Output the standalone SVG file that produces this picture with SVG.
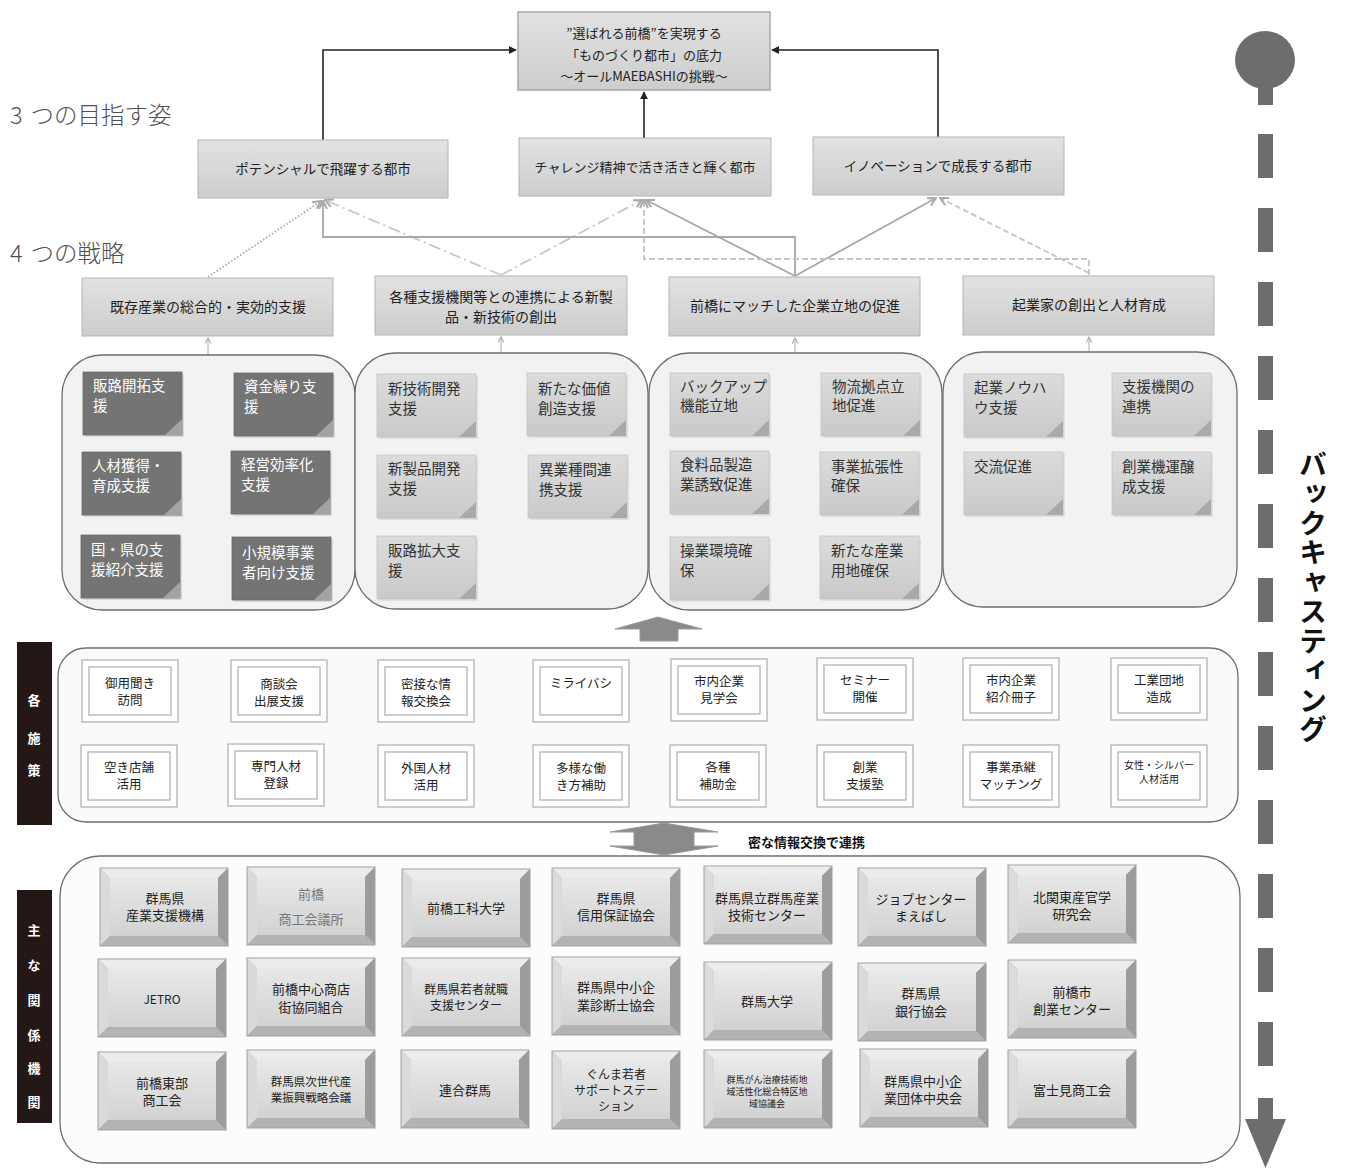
<svg xmlns="http://www.w3.org/2000/svg" xmlns:xlink="http://www.w3.org/1999/xlink" width="1345" height="1169" viewBox="0 0 1345 1169">
<style>
text{font-family:"Noto Sans CJK JP","Noto Sans",sans-serif;}
.bx{font-size:13.5px;fill:#222;text-anchor:middle;}
.tb{font-size:13px;fill:#222;text-anchor:middle;}
.sec{font-size:23.5px;fill:#505050;font-weight:300;}
.nt{font-size:14.5px;fill:#333;}
.ntw{font-size:14.5px;fill:#fff;}
.ms{font-size:12.5px;fill:#222;text-anchor:middle;}
.in{font-size:13px;fill:#222;text-anchor:middle;}
.lbl{font-size:13px;fill:#fff;font-weight:bold;text-anchor:middle;}
.panel{fill:#f2f2f2;stroke:#6e6e6e;stroke-width:1.3;}
.cg{fill:none;stroke:#a8a8a8;stroke-width:1.8;}
</style>
<defs>
<linearGradient id="gBox" x1="0" y1="0" x2="0" y2="1"><stop offset="0" stop-color="#e2e2e2"/><stop offset="1" stop-color="#cdcdcd"/></linearGradient>
<linearGradient id="gNote" x1="0" y1="0" x2="0" y2="1"><stop offset="0" stop-color="#dcdcdc"/><stop offset="1" stop-color="#c9c9c9"/></linearGradient>
<linearGradient id="gFace" x1="0" y1="0" x2="0" y2="1"><stop offset="0" stop-color="#e8e8e8"/><stop offset="1" stop-color="#d2d2d2"/></linearGradient>
<marker id="aB" viewBox="0 0 10 10" refX="9" refY="5" markerWidth="8" markerHeight="8" markerUnits="userSpaceOnUse" orient="auto"><path d="M0,0 L10,5 L0,10 Z" fill="#222"/></marker>
<marker id="aG" viewBox="0 0 10 10" refX="9" refY="5" markerWidth="10" markerHeight="10" markerUnits="userSpaceOnUse" orient="auto"><path d="M1,1 L9,5 L1,9" fill="none" stroke="#aaa" stroke-width="2"/></marker>
<marker id="aS" viewBox="0 0 10 10" refX="9" refY="5" markerWidth="7" markerHeight="7" markerUnits="userSpaceOnUse" orient="auto"><path d="M1,1 L9,5 L1,9" fill="none" stroke="#aaa" stroke-width="1.6"/></marker>
<g id="noteL">
<rect x="2" y="2" width="99" height="63" fill="#000" opacity="0.08"/>
<rect x="0" y="0" width="99" height="63" fill="url(#gNote)" stroke="#c4c4c4" stroke-width="0.8"/>
<path d="M82,63 L99,47 L99,63 Z" fill="#a9a9a9"/>
</g>
<g id="noteD">
<rect x="2" y="2" width="99" height="63" fill="#000" opacity="0.1"/>
<rect x="0" y="0" width="99" height="63" fill="#747474" stroke="#6a6a6a" stroke-width="0.8"/>
<path d="M82,63 L99,47 L99,63 Z" fill="#a3a3a3"/>
</g>
<g id="mbox">
<rect x="0" y="0" width="96" height="62" fill="#fff" stroke="#bdbdbd" stroke-width="1.5"/>
<rect x="7" y="7" width="82" height="48" fill="none" stroke="#bdbdbd" stroke-width="1.5"/>
</g>
<g id="bev">
<rect x="0" y="0" width="128" height="78" fill="#b0b0b0"/>
<path d="M0,0 H128 L118,10 H10 Z" fill="#ececec"/>
<path d="M0,0 L10,10 V68 L0,78 Z" fill="#dadada"/>
<path d="M128,0 V78 L118,68 V10 Z" fill="#9c9c9c"/>
<path d="M0,78 H128 L118,68 H10 Z" fill="#b3b3b3"/>
<rect x="10" y="10" width="108" height="58" fill="url(#gFace)"/>
<rect x="0" y="0" width="128" height="78" fill="none" stroke="#a0a0a0" stroke-width="1"/>
</g>
</defs>
<rect width="1345" height="1169" fill="#fff"/>

<!-- section labels -->
<text class="sec" x="10" y="124">3<tspan dx="8">つの目指す姿</tspan></text>
<text class="sec" x="10" y="262">4<tspan dx="8">つの戦略</tspan></text>

<!-- connectors -->
<g id="connectors">
<path d="M323,140 V50 H516" fill="none" stroke="#222" stroke-width="1.6" marker-end="url(#aB)"/>
<path d="M644,138 V92" fill="none" stroke="#222" stroke-width="1.6" marker-end="url(#aB)"/>
<path d="M938,137 V50 H772" fill="none" stroke="#222" stroke-width="1.6" marker-end="url(#aB)"/>
<path d="M208,277 L321,201" class="cg" stroke-dasharray="1.5,2" marker-end="url(#aG)"/>
<path d="M501,275 L325,200" class="cg" style="stroke:#c8c8c8" stroke-dasharray="12,4,2,4" marker-end="url(#aG)"/>
<path d="M501,275 L642,200" class="cg" style="stroke:#c8c8c8" stroke-dasharray="12,4,2,4" marker-end="url(#aG)"/>
<path d="M795,276 V237 H323 V201" class="cg" marker-end="url(#aG)"/>
<path d="M795,276 L646,200" class="cg" marker-end="url(#aG)"/>
<path d="M795,276 L936,198" class="cg" marker-end="url(#aG)"/>
<path d="M1089,275 V259 H644 V200" class="cg" style="stroke:#c4c4c4" stroke-dasharray="6,3" marker-end="url(#aG)"/>
<path d="M1089,273 L940,198" class="cg" style="stroke:#c4c4c4" stroke-dasharray="6,3" marker-end="url(#aG)"/>
<path d="M208,355 V338" fill="none" stroke="#aaa" stroke-width="1" marker-end="url(#aS)"/>
<path d="M501,353 V337" fill="none" stroke="#aaa" stroke-width="1" marker-end="url(#aS)"/>
<path d="M795,353 V338" fill="none" stroke="#aaa" stroke-width="1" marker-end="url(#aS)"/>
<path d="M1089,352 V337" fill="none" stroke="#aaa" stroke-width="1" marker-end="url(#aS)"/>
<path d="M658,617 L702,629 H678 V641 H640 V629 H615 Z" fill="#8a8a8a" stroke="#9a9a9a" stroke-width="1"/>
<path d="M664,823 L718,832 H694 V846 H718 L664,855 L610,846 H634 V832 H610 Z" fill="#8a8a8a" stroke="#9a9a9a" stroke-width="1"/>
<text x="748" y="847" style="font-size:13px;font-weight:bold" fill="#111">密な情報交換で連携</text>
</g>

<!-- top goal -->
<g id="vision">
<rect x="518" y="12" width="252" height="78" fill="url(#gBox)" stroke="#a8a8a8" stroke-width="1.5"/>
<text class="tb" x="644" y="38">”選ばれる前橋”を実現する</text>
<text class="tb" x="644" y="60">「ものづくり都市」の底力</text>
<text class="tb" x="644" y="81">～オールMAEBASHIの挑戦～</text>
</g>

<!-- three goals -->
<g id="goal1"><rect x="198" y="140" width="250" height="58" fill="url(#gBox)" stroke="#b4b4b4"/><text class="bx" x="323" y="174">ポテンシャルで飛躍する都市</text></g>
<g id="goal2"><rect x="519" y="138" width="252" height="58" fill="url(#gBox)" stroke="#b4b4b4"/><text class="bx" x="645" y="172" style="font-size:13px">チャレンジ精神で活き活きと輝く都市</text></g>
<g id="goal3"><rect x="813" y="137" width="251" height="58" fill="url(#gBox)" stroke="#b4b4b4"/><text class="bx" x="938" y="171">イノベーションで成長する都市</text></g>

<!-- strategies -->
<g id="str1"><rect x="82" y="278" width="251" height="58" fill="url(#gBox)" stroke="#b4b4b4"/><text class="bx" x="208" y="312" style="font-size:14px">既存産業の総合的・実効的支援</text></g>
<g id="str2"><rect x="375" y="276" width="252" height="59" fill="url(#gBox)" stroke="#b4b4b4"/><text class="bx" x="501" y="302" style="font-size:14px">各種支援機関等との連携による新製</text><text class="bx" x="501" y="322" style="font-size:14px">品・新技術の創出</text></g>
<g id="str3"><rect x="669" y="277" width="251" height="59" fill="url(#gBox)" stroke="#b4b4b4"/><text class="bx" x="795" y="311" style="font-size:14px">前橋にマッチした企業立地の促進</text></g>
<g id="str4"><rect x="963" y="276" width="251" height="59" fill="url(#gBox)" stroke="#b4b4b4"/><text class="bx" x="1089" y="310" style="font-size:14px">起業家の創出と人材育成</text></g>

<!-- panels -->
<g id="panel1">
<rect class="panel" x="62" y="355" width="293" height="255" rx="40"/>
<use xlink:href="#noteD" x="83" y="372"/><text class="ntw" x="93" y="391">販路開拓支</text><text class="ntw" x="93" y="411">援</text>
<use xlink:href="#noteD" x="234" y="373"/><text class="ntw" x="244" y="392">資金繰り支</text><text class="ntw" x="244" y="412">援</text>
<use xlink:href="#noteD" x="82" y="452"/><text class="ntw" x="92" y="471">人材獲得・</text><text class="ntw" x="92" y="491">育成支援</text>
<use xlink:href="#noteD" x="231" y="451"/><text class="ntw" x="241" y="470">経営効率化</text><text class="ntw" x="241" y="490">支援</text>
<use xlink:href="#noteD" x="81" y="535"/><text class="ntw" x="91" y="555">国・県の支</text><text class="ntw" x="91" y="575">援紹介支援</text>
<use xlink:href="#noteD" x="232" y="537"/><text class="ntw" x="242" y="558">小規模事業</text><text class="ntw" x="242" y="578">者向け支援</text>
</g>
<g id="panel2">
<rect class="panel" x="355" y="353" width="293" height="256" rx="40"/>
<use xlink:href="#noteL" x="377" y="374"/><text class="nt" x="388" y="394">新技術開発</text><text class="nt" x="388" y="414">支援</text>
<use xlink:href="#noteL" x="527" y="373"/><text class="nt" x="538" y="394">新たな価値</text><text class="nt" x="538" y="414">創造支援</text>
<use xlink:href="#noteL" x="377" y="455"/><text class="nt" x="388" y="474">新製品開発</text><text class="nt" x="388" y="494">支援</text>
<use xlink:href="#noteL" x="528" y="455"/><text class="nt" x="539" y="475">異業種間連</text><text class="nt" x="539" y="495">携支援</text>
<use xlink:href="#noteL" x="377" y="536"/><text class="nt" x="388" y="556">販路拡大支</text><text class="nt" x="388" y="576">援</text>
</g>
<g id="panel3">
<rect class="panel" x="649" y="353" width="293" height="257" rx="40"/>
<use xlink:href="#noteL" x="670" y="373"/><text class="nt" x="680" y="392">バックアップ</text><text class="nt" x="680" y="411">機能立地</text>
<use xlink:href="#noteL" x="821" y="373"/><text class="nt" x="832" y="392">物流拠点立</text><text class="nt" x="832" y="411">地促進</text>
<use xlink:href="#noteL" x="670" y="451"/><text class="nt" x="680" y="470">食料品製造</text><text class="nt" x="680" y="490">業誘致促進</text>
<use xlink:href="#noteL" x="820" y="452"/><text class="nt" x="831" y="472">事業拡張性</text><text class="nt" x="831" y="491">確保</text>
<use xlink:href="#noteL" x="670" y="537"/><text class="nt" x="680" y="556">操業環境確</text><text class="nt" x="680" y="576">保</text>
<use xlink:href="#noteL" x="820" y="536"/><text class="nt" x="831" y="556">新たな産業</text><text class="nt" x="831" y="576">用地確保</text>
</g>
<g id="panel4">
<rect class="panel" x="943" y="352" width="294" height="255" rx="40"/>
<use xlink:href="#noteL" x="964" y="374"/><text class="nt" x="974" y="393">起業ノウハ</text><text class="nt" x="974" y="413">ウ支援</text>
<use xlink:href="#noteL" x="1112" y="373"/><text class="nt" x="1122" y="392">支援機関の</text><text class="nt" x="1122" y="412">連携</text>
<use xlink:href="#noteL" x="964" y="452"/><text class="nt" x="974" y="472">交流促進</text>
<use xlink:href="#noteL" x="1112" y="452"/><text class="nt" x="1122" y="472">創業機運醸</text><text class="nt" x="1122" y="492">成支援</text>
</g>

<!-- measures -->
<g id="measures-label">
<rect x="17" y="642" width="35" height="183" fill="#231815"/>
<text class="lbl" x="34" y="705">各</text><text class="lbl" x="34" y="743">施</text><text class="lbl" x="34" y="775">策</text>
</g>
<g id="measures">
<rect x="58" y="648" width="1180" height="174" rx="28" fill="#fafafa" stroke="#6e6e6e" stroke-width="1.3"/>
<g id="m1"><use xlink:href="#mbox" x="82" y="660"/><text class="ms" x="130" y="688">御用聞き</text><text class="ms" x="130" y="705">訪問</text></g>
<g id="m2"><use xlink:href="#mbox" x="231" y="660"/><text class="ms" x="279" y="689">商談会</text><text class="ms" x="279" y="706">出展支援</text></g>
<g id="m3"><use xlink:href="#mbox" x="378" y="660"/><text class="ms" x="426" y="689">密接な情</text><text class="ms" x="426" y="706">報交換会</text></g>
<g id="m4"><use xlink:href="#mbox" x="533" y="660"/><text class="ms" x="581" y="688">ミライバシ</text></g>
<g id="m5"><use xlink:href="#mbox" x="671" y="659"/><text class="ms" x="719" y="686">市内企業</text><text class="ms" x="719" y="703">見学会</text></g>
<g id="m6"><use xlink:href="#mbox" x="817" y="658"/><text class="ms" x="865" y="685">セミナー</text><text class="ms" x="865" y="702">開催</text></g>
<g id="m7"><use xlink:href="#mbox" x="963" y="658"/><text class="ms" x="1011" y="685">市内企業</text><text class="ms" x="1011" y="702">紹介冊子</text></g>
<g id="m8"><use xlink:href="#mbox" x="1111" y="658"/><text class="ms" x="1159" y="685">工業団地</text><text class="ms" x="1159" y="702">造成</text></g>
<g id="m9"><use xlink:href="#mbox" x="81" y="745"/><text class="ms" x="129" y="772">空き店舗</text><text class="ms" x="129" y="789">活用</text></g>
<g id="m10"><use xlink:href="#mbox" x="228" y="744"/><text class="ms" x="276" y="771">専門人材</text><text class="ms" x="276" y="788">登録</text></g>
<g id="m11"><use xlink:href="#mbox" x="378" y="745"/><text class="ms" x="426" y="773">外国人材</text><text class="ms" x="426" y="790">活用</text></g>
<g id="m12"><use xlink:href="#mbox" x="533" y="745"/><text class="ms" x="581" y="773">多様な働</text><text class="ms" x="581" y="790">き方補助</text></g>
<g id="m13"><use xlink:href="#mbox" x="670" y="745"/><text class="ms" x="718" y="772">各種</text><text class="ms" x="718" y="789">補助金</text></g>
<g id="m14"><use xlink:href="#mbox" x="817" y="745"/><text class="ms" x="865" y="772">創業</text><text class="ms" x="865" y="789">支援塾</text></g>
<g id="m15"><use xlink:href="#mbox" x="963" y="745"/><text class="ms" x="1011" y="772">事業承継</text><text class="ms" x="1011" y="789">マッチング</text></g>
<g id="m16"><use xlink:href="#mbox" x="1111" y="745"/><text class="ms" x="1159" y="769" style="font-size:10px">女性・シルバー</text><text class="ms" x="1159" y="783" style="font-size:10px">人材活用</text></g>
</g>

<!-- institutions -->
<g id="inst-label">
<rect x="17" y="890" width="35" height="233" fill="#231815"/>
<text class="lbl" x="34" y="935">主</text><text class="lbl" x="34" y="970">な</text><text class="lbl" x="34" y="1005">関</text><text class="lbl" x="34" y="1040">係</text><text class="lbl" x="34" y="1073">機</text><text class="lbl" x="34" y="1107">関</text>
</g>
<g id="institutions">
<rect x="60" y="856" width="1180" height="307" rx="40" fill="#fcfcfc" stroke="#6e6e6e" stroke-width="1.3"/>
<g id="i1"><use xlink:href="#bev" x="100" y="868"/><text class="in" x="165" y="903">群馬県</text><text class="in" x="165" y="920">産業支援機構</text></g>
<g id="i2"><use xlink:href="#bev" x="247" y="867"/><text class="in" x="311" y="899" style="fill:#777">前橋</text><text class="in" x="311" y="924" style="fill:#777">商工会議所</text></g>
<g id="i3"><use xlink:href="#bev" x="402" y="869"/><text class="in" x="466" y="913">前橋工科大学</text></g>
<g id="i4"><use xlink:href="#bev" x="552" y="868"/><text class="in" x="616" y="903">群馬県</text><text class="in" x="616" y="920">信用保証協会</text></g>
<g id="i5"><use xlink:href="#bev" x="704" y="866"/><text class="in" x="767" y="903">群馬県立群馬産業</text><text class="in" x="767" y="920">技術センター</text></g>
<g id="i6"><use xlink:href="#bev" x="858" y="868"/><text class="in" x="921" y="904">ジョブセンター</text><text class="in" x="921" y="921">まえばし</text></g>
<g id="i7"><use xlink:href="#bev" x="1008" y="865"/><text class="in" x="1072" y="902">北関東産官学</text><text class="in" x="1072" y="919">研究会</text></g>
<g id="i8"><use xlink:href="#bev" x="98" y="959"/><text class="in" x="162" y="1004" style="font-size:12px">JETRO</text></g>
<g id="i9"><use xlink:href="#bev" x="247" y="958"/><text class="in" x="311" y="994">前橋中心商店</text><text class="in" x="311" y="1012">街協同組合</text></g>
<g id="i10"><use xlink:href="#bev" x="402" y="958"/><text class="in" x="466" y="994" style="font-size:12px">群馬県若者就職</text><text class="in" x="466" y="1010" style="font-size:12px">支援センター</text></g>
<g id="i11"><use xlink:href="#bev" x="552" y="957"/><text class="in" x="616" y="992">群馬県中小企</text><text class="in" x="616" y="1010">業診断士協会</text></g>
<g id="i12"><use xlink:href="#bev" x="704" y="962"/><text class="in" x="767" y="1006">群馬大学</text></g>
<g id="i13"><use xlink:href="#bev" x="858" y="963"/><text class="in" x="921" y="998">群馬県</text><text class="in" x="921" y="1016">銀行協会</text></g>
<g id="i14"><use xlink:href="#bev" x="1008" y="960"/><text class="in" x="1072" y="997">前橋市</text><text class="in" x="1072" y="1014">創業センター</text></g>
<g id="i15"><use xlink:href="#bev" x="98" y="1052"/><text class="in" x="162" y="1088">前橋東部</text><text class="in" x="162" y="1105">商工会</text></g>
<g id="i16"><use xlink:href="#bev" x="247" y="1050"/><text class="in" x="311" y="1086" style="font-size:11.5px">群馬県次世代産</text><text class="in" x="311" y="1102" style="font-size:11.5px">業振興戦略会議</text></g>
<g id="i17"><use xlink:href="#bev" x="401" y="1050"/><text class="in" x="465" y="1095">連合群馬</text></g>
<g id="i18"><use xlink:href="#bev" x="552" y="1051"/><text class="in" x="616" y="1079" style="font-size:12px">ぐんま若者</text><text class="in" x="616" y="1095" style="font-size:12px">サポートステー</text><text class="in" x="616" y="1111" style="font-size:12px">ション</text></g>
<g id="i19"><use xlink:href="#bev" x="704" y="1050"/><text class="in" x="767" y="1083" style="font-size:9px">群馬がん治療技術地</text><text class="in" x="767" y="1095" style="font-size:9px">域活性化総合特区地</text><text class="in" x="767" y="1107" style="font-size:9px">域協議会</text></g>
<g id="i20"><use xlink:href="#bev" x="860" y="1049"/><text class="in" x="923" y="1086">群馬県中小企</text><text class="in" x="923" y="1103">業団体中央会</text></g>
<g id="i21"><use xlink:href="#bev" x="1008" y="1050"/><text class="in" x="1072" y="1095">富士見商工会</text></g>
</g>

<!-- backcasting arrow -->
<g id="backcasting">
<ellipse cx="1265" cy="60" rx="30" ry="29" fill="#6d6d6d"/>
<rect x="1258" y="80" width="15" height="25" fill="#6d6d6d"/>
<path d="M1265.5,134 V1068" stroke="#6d6d6d" stroke-width="15" stroke-dasharray="44,30" fill="none"/>
<rect x="1258" y="1098" width="15" height="22" fill="#6d6d6d"/>
<path d="M1245,1119 H1286 L1265.5,1168 Z" fill="#6d6d6d"/>
<text x="1313" y="450" style="font-size:28px;font-weight:bold;writing-mode:vertical-rl;letter-spacing:1.5px" fill="#111">バックキャスティング</text>
</g>
</svg>
